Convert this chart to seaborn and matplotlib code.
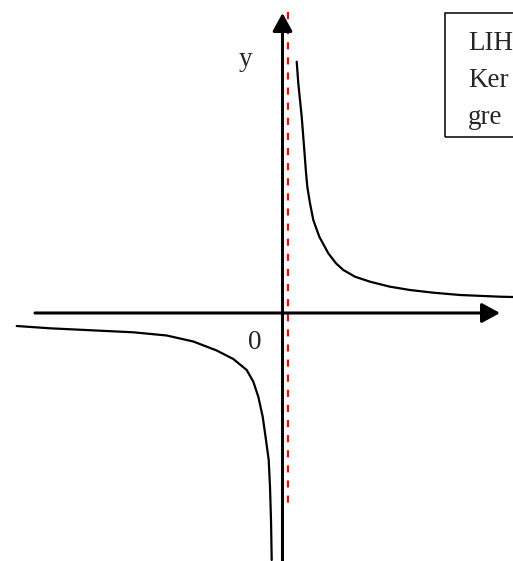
import matplotlib.pyplot as plt
import matplotlib.patches as mpatches
import seaborn as sns

# hand-read points of the two hyperbola branches (origin at axes crossing, y up)
upper_x = [14.2, 15.8, 17.5, 19.2, 21.8, 23.3, 24.8, 27.5, 30.8, 36.8, 45.8, 53.5,
           60.8, 72.5, 87.5, 107.5, 127.5, 150.8, 177.5, 217.5, 230.5]
upper_y = [251.3, 229.7, 213, 196.3, 163, 143, 126.3, 109.7, 93, 76.3, 59.7, 49.7,
           43, 36.3, 31.3, 26.3, 23, 20.3, 18, 16.3, 16]

lower_x = [-265.8, -232.5, -182.5, -149.2, -115.8, -89.2, -65.8, -49.2, -35.8,
           -29.2, -24.2, -19.8, -16.5, -13.8, -12.5, -11.5, -10.8]
lower_y = [-13, -15.3, -17.7, -19.3, -22.5, -28.5, -37.5, -46, -57,
           -68.7, -83.7, -103.7, -127, -147, -173.7, -207, -247]

asymptote_x = 5.5
box_lines = ["LIH", "Ker", "gre"]

sns.set_theme(style="white")
plt.rcParams["font.family"] = ["Liberation Serif", "DejaVu Serif"]

fig = plt.figure(figsize=(5.13, 5.61), dpi=100)
ax = fig.add_axes([0, 0, 1, 1])
ax.set_xlim(-282.5, 230.5)
ax.set_ylim(-248, 313)
ax.axis("off")

# coordinate axes with arrow heads
arrow = dict(arrowstyle="-|>,head_length=1.1,head_width=0.6", mutation_scale=10,
             lw=2.2, color="black", shrinkA=0, shrinkB=0)
ax.annotate("", xy=(217.5, 0), xytext=(-247.5, 0), arrowprops=arrow)
ax.annotate("", xy=(0, 300), xytext=(0, -250), arrowprops=arrow)

# red dashed asymptote
ax.plot([asymptote_x, asymptote_x], [301, -190], color="red", lw=1.6,
        linestyle=(0, (3.2, 3.6)))

for xs, ys in [(upper_x, upper_y), (lower_x, lower_y)]:
    sns.lineplot(x=xs, y=ys, sort=False, estimator=None, color="black",
                 lw=1.6, ax=ax, solid_joinstyle="round", solid_capstyle="round")

ax.text(-37, 247, "y", fontsize=19.5, ha="center", va="baseline")
ax.text(-28, -36, "0", fontsize=19.5, ha="center", va="baseline")

# note box, cut off at the right edge
ax.add_patch(mpatches.Rectangle((162.5, 176), 120, 124, fill=False,
                                edgecolor="black", lw=1.1, clip_on=False))
for i, s in enumerate(box_lines):
    ax.text(185.5, 263 - 37 * i, s, fontsize=19.5, ha="left", va="baseline")

fig.savefig("out.png", dpi=100)
